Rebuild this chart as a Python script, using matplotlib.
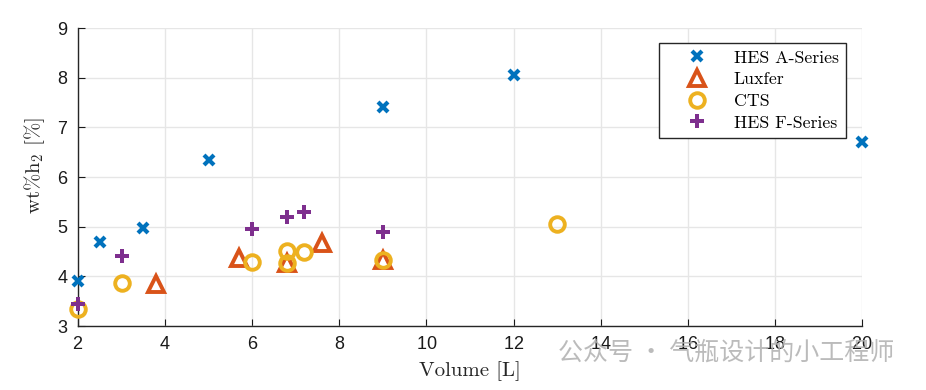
import matplotlib
matplotlib.use('Agg')
import matplotlib.pyplot as plt

# data
hes_a_vol = [2, 2.5, 3.5, 5, 9, 12, 20]
hes_a_wt = [3.9, 4.7, 4.98, 6.35, 7.42, 8.05, 6.7]

luxfer_vol = [3.8, 5.7, 6.8, 7.6, 9]
luxfer_wt = [3.85, 4.38, 4.27, 4.68, 4.33]

cts_vol = [2, 3, 6, 6.8, 6.8, 7.2, 9, 13]
cts_wt = [3.35, 3.87, 4.28, 4.52, 4.27, 4.5, 4.33, 5.05]

hes_f_vol = [2, 3, 6, 6.8, 7.2, 9]
hes_f_wt = [3.45, 4.42, 4.95, 5.2, 5.3, 4.9]

xticks = [2, 4, 6, 8, 10, 12, 14, 16, 18, 20]
yticks = [3, 4, 5, 6, 7, 8, 9]

plt.rcParams['font.family'] = ['Liberation Sans', 'DejaVu Sans']
plt.rcParams['mathtext.fontset'] = 'cm'
plt.rcParams['axes.formatter.use_mathtext'] = True

fig = plt.figure(figsize=(9.26, 3.9), dpi=100)
ax = fig.add_axes([0.0842, 0.164, 0.8467, 0.764])

ax.plot(hes_a_vol, hes_a_wt, linestyle='none', marker='x', ms=7.5, mew=3,
        color='#0072BD', label='HES A-Series', clip_on=False, zorder=3)
ax.plot(luxfer_vol, luxfer_wt, linestyle='none', marker='^', ms=11, mew=2.8,
        mfc='none', color='#D95319', label='Luxfer', clip_on=False, zorder=3)
ax.plot(cts_vol, cts_wt, linestyle='none', marker='o', ms=10.5, mew=2.8,
        mfc='none', color='#EDB120', label='CTS', clip_on=False, zorder=3)
ax.plot(hes_f_vol, hes_f_wt, linestyle='none', marker='P', ms=10, mew=0,
        color='#7E2F8E', label='HES F-Series', clip_on=False, zorder=3)

ax.set_xlim(2, 20)
ax.set_ylim(3, 9)
ax.set_xticks(xticks)
ax.set_yticks(yticks)
ax.tick_params(direction='in', length=5, labelsize=13, colors='#1a1a1a',
               pad=7)
ax.grid(True, color='#e6e6e6', linewidth=1)
ax.set_axisbelow(True)
for s in ['top', 'right']:
    ax.spines[s].set_visible(False)
for s in ['left', 'bottom']:
    ax.spines[s].set_color('#262626')
    ax.spines[s].set_linewidth(1)

ax.set_xlabel('Volume [L]', family='cmr10', fontsize=15, color='#262626',
              labelpad=6)
ax.set_ylabel(r'wt%h$_2$ [%]', family='cmr10', fontsize=15,
              color='#262626')
ax.yaxis.set_label_coords(-0.04, 0.54)

leg = ax.legend(loc='upper right', bbox_to_anchor=(0.9796, 0.95),
                borderaxespad=0,
                prop={'family': 'cmr10', 'size': 12.8}, fancybox=False,
                edgecolor='#262626', framealpha=1, handletextpad=0.4,
                borderpad=0.4, labelspacing=0.35, handlelength=3.4)
leg.get_frame().set_linewidth(1)

# watermark in the reference
fig.text(0.603, 0.095, '公众号 · 气瓶设计的小工程师', fontsize=18,
         color='#b0b0b0', family=['Noto Sans CJK SC', 'DejaVu Sans'],
         va='center', alpha=0.85)

fig.savefig('out.png', dpi=100)
